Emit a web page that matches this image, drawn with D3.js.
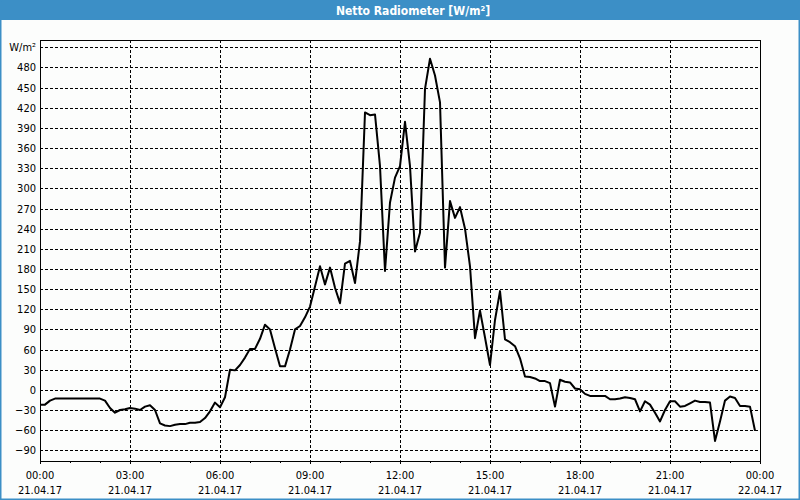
<!DOCTYPE html>
<html>
<head>
<meta charset="utf-8">
<script src="https://cdn.jsdelivr.net/npm/d3@7"></script>
<style>
  html, body { margin: 0; padding: 0; background: #fcfdfc; }
  svg { display: block; }
  text { font-family: "DejaVu Sans Condensed", "DejaVu Sans", sans-serif; }
</style>
</head>
<body>
<svg id="chart" width="800" height="500"></svg>
<script>
// ---- data ----
const title = "Netto Radiometer [W/m²]";
const unitLabel = "W/m²";
const startTime = "2017-04-21T00:00:00";
const endTime = "2017-04-22T00:00:00";
const stepMinutes = 10;
const yTicks = [-90, -60, -30, 0, 30, 60, 90, 120, 150, 180, 210, 240, 270, 300, 330, 360, 390, 420, 450, 480];
const yUnitTick = 510;
const xTickHours = [0, 3, 6, 9, 12, 15, 18, 21, 24];
const values = [
  -22, -22, -16, -13, -13, -13, -13, -13, -13, -13, -13, -13, -13, -16, -27, -34,
  -30, -29, -27, -28, -30, -25, -23, -30, -50, -53, -54, -52, -51, -51, -49, -49,
  -48, -42, -32, -19, -26, -11, 30, 29, 37, 48, 61, 61, 76, 97, 90, 62,
  35, 35, 60, 90, 95, 108, 124, 154, 184, 157, 182, 152, 129, 188, 192, 159,
  221, 413, 409, 410, 333, 177, 279, 316, 333, 399, 333, 206, 234, 448, 493, 468,
  428, 182, 281, 256, 272, 240, 184, 77, 118, 78, 37, 104, 147, 75, 71, 65,
  47, 20, 19, 17, 13, 13, 10, -25, 15, 12, 11, 2, 1, -6, -9, -9,
  -9, -9, -14, -14, -13, -11, -12, -14, -32, -17, -22, -34, -47, -30, -17, -17,
  -25, -24, -20, -16, -18, -18, -19, -76, -47, -16, -10, -12, -24, -24, -25, -61
];

// ---- layout ----
const W = 800, H = 500;
const plot = { left: 40, right: 760, top: 40, bottom: 461 };
const svg = d3.select("#chart");

const t0 = new Date(startTime), t1 = new Date(endTime);
const x = d3.scaleTime().domain([t0, t1]).range([plot.left, plot.right]);
const y = d3.scaleLinear().domain([-90, 510]).range([450.3, 47.3]);

const series = values.map((v, i) => ({ t: new Date(t0.getTime() + i * stepMinutes * 60000), v }));

// background & border
svg.append("rect").attr("x", 0).attr("y", 0).attr("width", W).attr("height", H).attr("fill", "#fcfdfc");
svg.append("rect").attr("x", 0).attr("y", 0).attr("width", W).attr("height", 20).attr("fill", "#3c8fc6");
svg.append("rect").attr("x", 0.75).attr("y", 0.5).attr("width", W - 1.5).attr("height", H - 1.25)
  .attr("fill", "none").attr("stroke", "#3c8fc6").attr("stroke-width", 1.5);

svg.append("text").attr("x", 413).attr("y", 14.5).attr("text-anchor", "middle")
  .attr("fill", "#ffffff").attr("font-weight", "bold").attr("font-size", 12).text(title);

// horizontal gridlines
const gridTicks = yTicks.concat([yUnitTick]);
svg.append("g").selectAll("line").data(gridTicks).join("line")
  .attr("x1", plot.left).attr("x2", plot.right)
  .attr("y1", d => Math.round(y(d)) + 0.5).attr("y2", d => Math.round(y(d)) + 0.5)
  .attr("stroke", "#000").attr("stroke-width", 1).attr("stroke-dasharray", "3,2");

// vertical gridlines
const majorTimes = xTickHours.map(h => new Date(t0.getTime() + h * 3600000));
svg.append("g").selectAll("line").data(majorTimes.slice(1, -1)).join("line")
  .attr("x1", d => Math.round(x(d)) + 0.5).attr("x2", d => Math.round(x(d)) + 0.5)
  .attr("y1", plot.top).attr("y2", plot.bottom)
  .attr("stroke", "#000").attr("stroke-width", 1).attr("stroke-dasharray", "3,2");

// y axis labels
const yAxis = d3.axisLeft(y).tickValues(yTicks).tickSize(0).tickPadding(4)
  .tickFormat(d3.format("d"));
const gy = svg.append("g").attr("transform", `translate(${plot.left},0)`).call(yAxis);
gy.select(".domain").remove();
gy.selectAll("text").attr("font-size", 11).attr("fill", "#000")
  .attr("font-family", "\"DejaVu Sans Condensed\", \"DejaVu Sans\", sans-serif");
svg.append("text").attr("x", plot.left - 4).attr("y", y(yUnitTick)).attr("dy", "0.32em")
  .attr("text-anchor", "end").attr("font-size", 11).attr("fill", "#000").text(unitLabel);

// x axis: minor ticks (hourly) and major labels
const hourTimes = d3.range(0, 25).map(h => new Date(t0.getTime() + h * 3600000));
svg.append("g").selectAll("line").data(hourTimes).join("line")
  .attr("x1", d => Math.round(x(d)) + 0.5).attr("x2", d => Math.round(x(d)) + 0.5)
  .attr("y1", plot.bottom).attr("y2", (d, i) => plot.bottom + (i % 3 === 0 ? 3 : 2))
  .attr("stroke", "#000").attr("stroke-width", 1);

const fmtTime = d3.timeFormat("%H:%M");
const fmtDate = d3.timeFormat("%d.%m.%y");
const xl = svg.append("g").selectAll("g").data(majorTimes).join("g")
  .attr("transform", d => `translate(${x(d)},0)`);
xl.append("text").attr("y", 479).attr("text-anchor", "middle").attr("font-size", 11)
  .attr("fill", "#000").text(d => fmtTime(d));
xl.append("text").attr("y", 494).attr("text-anchor", "middle").attr("font-size", 11)
  .attr("fill", "#000").text(d => fmtDate(d));

// frame
svg.append("rect").attr("x", plot.left + 0.5).attr("y", plot.top + 0.5)
  .attr("width", plot.right - plot.left).attr("height", plot.bottom - plot.top)
  .attr("fill", "none").attr("stroke", "#000").attr("stroke-width", 1);

// data line
const line = d3.line().x(d => x(d.t)).y(d => y(d.v));
svg.append("path").datum(series).attr("d", line)
  .attr("fill", "none").attr("stroke", "#000").attr("stroke-width", 2)
  .attr("stroke-linejoin", "round");
</script>
</body>
</html>
